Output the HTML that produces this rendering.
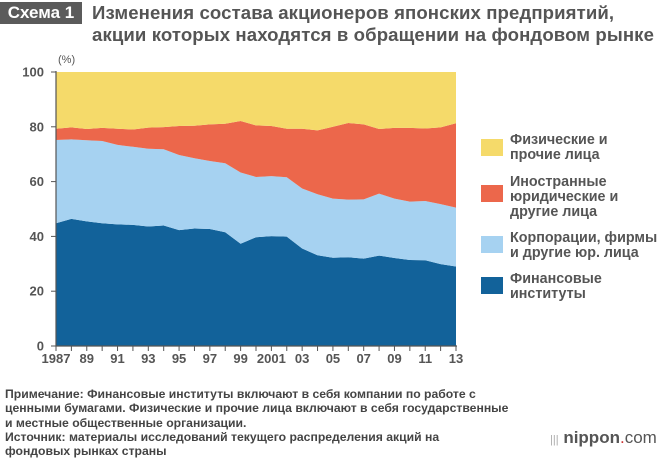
<!DOCTYPE html>
<html><head><meta charset="utf-8">
<style>
body{margin:0;background:#fff;font-family:"Liberation Sans",sans-serif;}
#wrap{position:relative;width:660px;height:458px;overflow:hidden;}
.badge{position:absolute;left:0;top:2px;width:82px;height:22px;background:#5b5b5b;color:#fff;font-weight:bold;font-size:17px;line-height:22px;text-align:center;}
.title{position:absolute;left:92px;top:2px;color:#555;font-weight:bold;font-size:18.6px;line-height:22px;letter-spacing:0.1px;white-space:nowrap;}
.leg{position:absolute;left:481px;width:22px;height:17px;}
.legt{position:absolute;left:510px;color:#555;font-weight:bold;font-size:14.3px;line-height:15px;white-space:nowrap;}
.foot{position:absolute;left:5px;top:387px;color:#444;font-weight:bold;font-size:12.2px;line-height:14.3px;white-space:nowrap;}
.logo{position:absolute;left:550px;top:428px;color:#555;font-size:17px;white-space:nowrap;}
</style></head><body>
<div id="wrap">
<div class="badge">Схема 1</div>
<div class="title">Изменения состава акционеров японских предприятий,<br>акции которых находятся в обращении на фондовом рынке</div>
<svg id="chart" width="660" height="458" style="position:absolute;left:0;top:0"></svg>
<div class="leg" style="top:139px;background:#f5da6a"></div>
<div class="legt" style="top:133px">Физические и<br>прочие лица</div>
<div class="leg" style="top:185px;background:#ec674b"></div>
<div class="legt" style="top:175px">Иностранные<br>юридические и<br>другие лица</div>
<div class="leg" style="top:236px;background:#a6d2f1"></div>
<div class="legt" style="top:231px">Корпорации, фирмы<br>и другие юр. лица</div>
<div class="leg" style="top:277px;background:#12629a"></div>
<div class="legt" style="top:272px">Финансовые<br>институты</div>
<div class="foot">Примечание: Финансовые институты включают в себя компании по работе с<br>ценными бумагами. Физические и прочие лица включают в себя государственные<br>и местные общественные организации.<br>Источник: материалы исследований текущего распределения акций на<br>фондовых рынках страны</div>
<div class="logo"><span style="color:#aaa;font-size:11px">|||</span> <b>nippon</b><span style="color:#c33">.</span>com</div>
</div>
<script>
const years=[1987,1988,1989,1990,1991,1992,1993,1994,1995,1996,1997,1998,1999,2000,2001,2002,2003,2004,2005,2006,2007,2008,2009,2010,2011,2012,2013];
const financial=[44.8,46.4,45.5,44.8,44.4,44.2,43.6,44.0,42.3,42.9,42.7,41.5,37.3,39.7,40.1,39.9,35.6,33.1,32.2,32.4,31.9,33.0,32.1,31.4,31.3,29.9,29.0];
const corporations=[30.4,29.0,29.6,30.0,29.0,28.5,28.4,27.8,27.4,25.6,24.8,25.2,26.0,22.0,21.9,21.7,21.9,22.3,21.6,21.0,21.6,22.6,21.7,21.3,21.6,21.9,21.5];
const foreign=[4.1,4.4,4.1,4.8,5.9,6.3,7.7,8.1,10.6,11.9,13.4,14.4,18.8,18.8,18.3,17.7,21.8,23.3,26.2,28.0,27.4,23.6,25.8,26.9,26.5,28.0,30.8];
const individuals=[20.7,20.2,20.8,20.4,20.7,21.0,20.3,20.1,19.7,19.6,19.1,18.9,17.9,19.5,19.7,20.7,20.7,21.3,20.0,18.6,19.1,20.8,20.4,20.4,20.6,20.2,18.7];
const yTicks=[0,20,40,60,80,100];
const xLabels=["1987","89","91","93","95","97","99","2001","03","05","07","09","11","13"];
const NS="http://www.w3.org/2000/svg";
const svg=document.getElementById('chart');
const X0=56,X1=456,Y0=346,Y1=72;
const xs=y=>X0+(y-years[0])/(years[years.length-1]-years[0])*(X1-X0);
const ys=v=>Y0-v/100*(Y0-Y1);
function mk(t,a){const e=document.createElementNS(NS,t);for(const k in a)e.setAttribute(k,a[k]);svg.appendChild(e);return e;}
const series=[[financial,'#12629a','area-financial'],[corporations,'#a6d2f1','area-corporations'],[foreign,'#ec674b','area-foreign'],[individuals,'#f5da6a','area-individuals']];
let base=years.map(()=>0);
series.forEach(([arr,col,name])=>{
  const top=base.map((b,i)=>b+arr[i]);
  let d='M'+years.map((y,i)=>xs(y)+','+ys(top[i])).join('L');
  for(let i=years.length-1;i>=0;i--)d+='L'+xs(years[i])+','+ys(base[i]);
  const p=mk('path',{d:d+'Z',fill:col});
  
  
  base=top;
});
const ax=mk('path',{d:`M${X0},${Y1-1}V${Y0}H${X1+1}`,stroke:'#555',fill:'none','stroke-width':1.2});


yTicks.forEach(v=>{
  mk('line',{x1:X0-5,x2:X0,y1:ys(v),y2:ys(v),stroke:'#555'});
  const t=mk('text',{x:X0-12,y:ys(v)+4.5,'text-anchor':'end','font-size':13,'font-weight':'bold',fill:'#555','font-family':'Liberation Sans'});
  t.textContent=v;
  
  
});
years.forEach(y=>mk('line',{x1:xs(y),x2:xs(y),y1:Y0,y2:Y0+5,stroke:'#555'}));
xLabels.forEach((l,i)=>{
  const t=mk('text',{x:xs(years[0]+2*i),y:Y0+17,'text-anchor':'middle','font-size':13,'font-weight':'bold',fill:'#555','font-family':'Liberation Sans'});
  t.textContent=l;
  
  
});
const u=mk('text',{x:58,y:63,'font-size':11,fill:'#555','font-family':'Liberation Sans'});
u.textContent='(%)';


</script>
</body></html>
